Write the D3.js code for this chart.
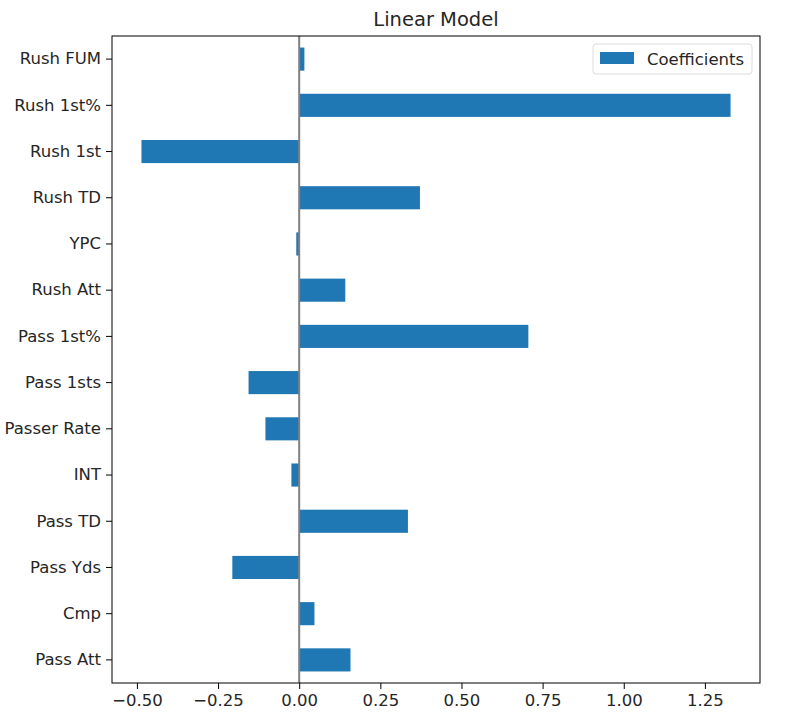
<!DOCTYPE html>
<html>
<head>
<meta charset="utf-8">
<script src="https://cdn.jsdelivr.net/npm/d3@7"></script>
<style>
  body { margin: 0; background: #fff; }
  text { font-family: "DejaVu Sans", sans-serif; fill: #262626; }
</style>
</head>
<body>
<div id="chart"></div>
<script>
// categories listed top to bottom as drawn
var features = ["Rush FUM", "Rush 1st%", "Rush 1st", "Rush TD", "YPC", "Rush Att",
                "Pass 1st%", "Pass 1sts", "Passer Rate", "INT", "Pass TD", "Pass Yds",
                "Cmp", "Pass Att"];
var coefficients = [0.016, 1.329, -0.486, 0.372, -0.009, 0.142,
                    0.706, -0.156, -0.104, -0.024, 0.335, -0.206,
                    0.047, 0.158];
var xTicks = [-0.5, -0.25, 0, 0.25, 0.5, 0.75, 1.0, 1.25];

var width = 793, height = 727;
var margin = {top: 36, right: 33, bottom: 44, left: 112};
var plotW = 760 - margin.left;
var plotH = 683 - margin.top;

var svg = d3.select("#chart")
    .append("svg")
    .attr("width", width)
    .attr("height", height);

var g = svg.append("g")
    .attr("transform", "translate(" + margin.left + "," + margin.top + ")");

//x range gets a 5% margin like matplotlib
var lo = d3.min(coefficients.concat([0])), hi = d3.max(coefficients.concat([0]));
var pad = (hi - lo) * 0.05;
var x = d3.scaleLinear()
    .domain([lo - pad, hi + pad])
    .range([0, plotW]);

var y = d3.scaleBand()
    .domain(features)
    .range([0, plotH])
    .paddingInner(0.5)
    .paddingOuter(0.25);

//bars
g.selectAll(".bar")
    .data(features)
    .enter().append("rect")
    .attr("class", "bar")
    .attr("x", function(d, i) { return x(Math.min(0, coefficients[i])); })
    .attr("y", function(d) { return y(d); })
    .attr("width", function(d, i) { return Math.abs(x(coefficients[i]) - x(0)); })
    .attr("height", y.bandwidth())
    .style("fill", "#1f77b4");

//zero line
g.append("line")
    .attr("x1", x(0)).attr("x2", x(0))
    .attr("y1", 0).attr("y2", plotH)
    .style("stroke", "#808080")
    .style("stroke-width", 2);

//axes
var xAxis = g.append("g")
    .attr("transform", "translate(0," + plotH + ")")
    .call(d3.axisBottom(x).tickValues(xTicks).tickSize(6).tickPadding(5)
        .tickFormat(function(d) { return d3.format(".2f")(d).replace("-", "\u2212"); }));

var yAxis = g.append("g")
    .call(d3.axisLeft(y).tickSize(6).tickPadding(5));

[xAxis, yAxis].forEach(function(a) {
    a.select(".domain").remove();
    a.selectAll("line").style("stroke", "#000").style("stroke-width", 1);
    a.selectAll("text").style("font-size", "16.5px").style("fill", "#262626");
});

//frame
g.append("rect")
    .attr("width", plotW)
    .attr("height", plotH)
    .style("fill", "none")
    .style("stroke", "#000")
    .style("stroke-width", 1);

//title
svg.append("text")
    .attr("x", margin.left + plotW / 2)
    .attr("y", 26)
    .attr("text-anchor", "middle")
    .style("font-size", "19.5px")
    .text("Linear Model");

//legend
var legend = g.append("g")
    .attr("transform", "translate(" + (plotW - 167) + ",8)");
legend.append("rect")
    .attr("width", 159).attr("height", 30)
    .attr("rx", 3)
    .style("fill", "#fff")
    .style("stroke", "#dcdcdc");
legend.append("rect")
    .attr("x", 7).attr("y", 8)
    .attr("width", 34).attr("height", 12)
    .style("fill", "#1f77b4");
legend.append("text")
    .attr("x", 54).attr("y", 21)
    .style("font-size", "16.5px")
    .text("Coefficients");
</script>
</body>
</html>
